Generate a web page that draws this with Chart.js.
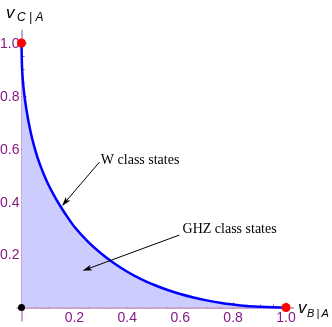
<!DOCTYPE html>
<html lang="en">
<head>
    <meta charset="UTF-8">
    <title>W and GHZ class states</title>
    <script src="https://cdn.jsdelivr.net/npm/chart.js"></script>
    <style>
        body { margin: 0; padding: 0; background: #fff; }
        #wrap { width: 332px; height: 327px; }
    </style>
</head>
<body>
    <div id="wrap"><canvas id="vChart"></canvas></div>
    <script>
        // boundary curve: v_B|A (x) vs v_C|A (y)
        const vB = [0, 0.001, 0.003, 0.005, 0.01, 0.02, 0.03, 0.04, 0.055, 0.07, 0.085, 0.1, 0.125, 0.15, 0.175,
                    0.2, 0.25, 0.3, 0.35, 0.4, 0.45, 0.5, 0.55, 0.6, 0.65, 0.7, 0.75, 0.8, 0.85, 0.9, 0.95, 1.0];
        const vC = [1.0, 0.94, 0.89, 0.86, 0.81, 0.74, 0.685, 0.64, 0.585, 0.54, 0.502, 0.468, 0.42, 0.378, 0.34,
                    0.305, 0.25, 0.205, 0.167, 0.135, 0.108, 0.086, 0.067, 0.051, 0.038, 0.027, 0.018, 0.011, 0.0055, 0.0025, 0.0006, 0];

        // marked points
        const redX = [0, 1];
        const redY = [1, 0];
        const originX = [0];
        const originY = [0];

        const tickVals = [0.2, 0.4, 0.6, 0.8, 1.0];
        const tickLabels = ['0.2', '0.4', '0.6', '0.8', '1.0'];

        // annotation text + arrows, in data units
        const notes = [
            { text: 'W class states', x: 0.30, y: 0.555, from: [0.295, 0.55], to: [0.153, 0.384] },
            { text: 'GHZ class states', x: 0.609, y: 0.297, from: [0.597, 0.274], to: [0.231, 0.139] }
        ];

        const purple = '#861a86';
        const axisPurple = '#8e4a9c';

        const axesPlugin = {
            id: 'mmaAxes',
            beforeDatasetsDraw(chart) {
                const ctx = chart.ctx;
                const xs = chart.scales.x, ys = chart.scales.y;
                const x0 = xs.getPixelForValue(0), y0 = ys.getPixelForValue(0);
                ctx.save();
                ctx.strokeStyle = axisPurple;
                ctx.lineWidth = 1;
                ctx.beginPath();
                ctx.moveTo(x0 - 5, y0 + 0.5);
                ctx.lineTo(xs.getPixelForValue(1.03), y0 + 0.5);
                ctx.moveTo(x0 + 0.5, y0 + 14);
                ctx.lineTo(x0 + 0.5, ys.getPixelForValue(1.05));
                // minor + major ticks
                for (let i = 1; i <= 20; i++) {
                    const v = i * 0.05;
                    const len = (i % 4 === 0) ? 5 : 3;
                    const px = Math.round(xs.getPixelForValue(v)) + 0.5;
                    ctx.moveTo(px, y0);
                    ctx.lineTo(px, y0 - len);
                    const py = Math.round(ys.getPixelForValue(v)) + 0.5;
                    ctx.moveTo(x0, py);
                    ctx.lineTo(x0 + len, py);
                }
                ctx.stroke();

                ctx.fillStyle = purple;
                ctx.font = '14px "Liberation Sans", Arial, sans-serif';
                ctx.textAlign = 'center';
                ctx.textBaseline = 'middle';
                tickVals.forEach((v, i) => {
                    ctx.fillText(tickLabels[i], xs.getPixelForValue(v), y0 + 11);
                });
                ctx.textAlign = 'right';
                tickVals.forEach((v, i) => {
                    ctx.fillText(tickLabels[i], x0 - 2, ys.getPixelForValue(v) + 1);
                });
                ctx.restore();
            },
            afterDraw(chart) {
                const ctx = chart.ctx;
                const xs = chart.scales.x, ys = chart.scales.y;
                ctx.save();
                // axis labels
                ctx.fillStyle = '#000';
                ctx.textBaseline = 'alphabetic';
                ctx.textAlign = 'left';
                ctx.font = 'italic 17px "Liberation Sans", Arial, sans-serif';
                ctx.fillText('v', 6, 18);
                ctx.font = 'italic 12px "Liberation Sans", Arial, sans-serif';
                ctx.fillText('C | A', 17, 21);
                const yb = ys.getPixelForValue(0);
                ctx.font = 'italic 17px "Liberation Sans", Arial, sans-serif';
                ctx.fillText('v', 298, yb + 5);
                ctx.font = 'italic 11px "Liberation Sans", Arial, sans-serif';
                ctx.fillText('B\u2009|\u2009A', 307, yb + 9);

                // annotations
                ctx.font = '14px "Liberation Serif", "Times New Roman", serif';
                ctx.textBaseline = 'middle';
                ctx.strokeStyle = '#000';
                ctx.fillStyle = '#000';
                ctx.lineWidth = 1;
                notes.forEach(n => {
                    ctx.fillText(n.text, xs.getPixelForValue(n.x), ys.getPixelForValue(n.y));
                    const fx = xs.getPixelForValue(n.from[0]), fy = ys.getPixelForValue(n.from[1]);
                    const tx = xs.getPixelForValue(n.to[0]), ty = ys.getPixelForValue(n.to[1]);
                    const ang = Math.atan2(ty - fy, tx - fx);
                    ctx.beginPath();
                    ctx.moveTo(fx, fy);
                    ctx.lineTo(tx - 6 * Math.cos(ang), ty - 6 * Math.sin(ang));
                    ctx.stroke();
                    ctx.beginPath();
                    ctx.moveTo(tx, ty);
                    ctx.lineTo(tx - 10 * Math.cos(ang - 0.3), ty - 10 * Math.sin(ang - 0.3));
                    ctx.lineTo(tx - 7 * Math.cos(ang), ty - 7 * Math.sin(ang));
                    ctx.lineTo(tx - 10 * Math.cos(ang + 0.3), ty - 10 * Math.sin(ang + 0.3));
                    ctx.closePath();
                    ctx.fill();
                });
                ctx.restore();
            }
        };

        new Chart(document.getElementById('vChart'), {
            type: 'scatter',
            data: {
                datasets: [
                    {
                        data: redX.map((x, i) => ({ x: x, y: redY[i] })),
                        pointRadius: 4.5,
                        pointBackgroundColor: '#ff0000',
                        pointBorderWidth: 0,
                        showLine: false,
                        clip: false,
                        order: 0
                    },
                    {
                        data: originX.map((x, i) => ({ x: x, y: originY[i] })),
                        pointRadius: 3.5,
                        pointBackgroundColor: '#000',
                        pointBorderWidth: 0,
                        showLine: false,
                        clip: false,
                        order: 0
                    },
                    {
                        data: vB.map((x, i) => ({ x: x, y: vC[i] })),
                        showLine: true,
                        borderColor: '#0000ff',
                        borderWidth: 2.5,
                        backgroundColor: 'rgba(204, 204, 255, 1)',
                        fill: 'origin',
                        pointRadius: 0,
                        cubicInterpolationMode: 'monotone',
                        clip: false,
                        order: 1
                    }
                ]
            },
            options: {
                responsive: true,
                maintainAspectRatio: false,
                animation: false,
                layout: { padding: { left: 21.5, right: 46, top: 43, bottom: 19.5 } },
                plugins: { legend: { display: false }, tooltip: { enabled: false } },
                scales: {
                    x: { type: 'linear', min: 0, max: 1, display: false },
                    y: { type: 'linear', min: 0, max: 1, display: false }
                }
            },
            plugins: [axesPlugin]
        });
    </script>
</body>
</html>
